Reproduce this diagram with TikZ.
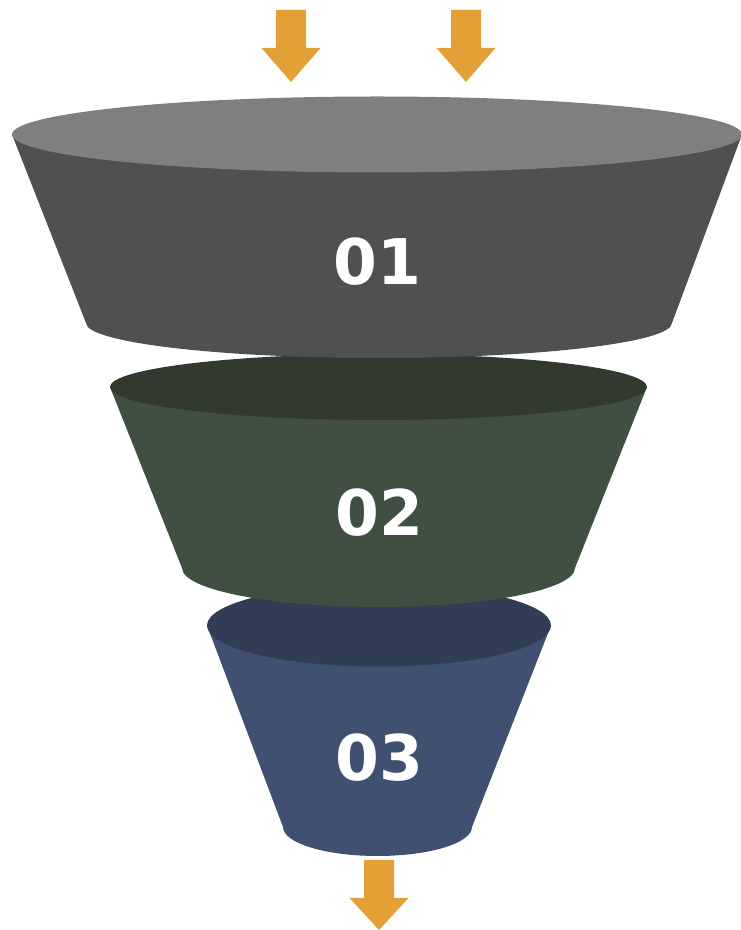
\documentclass[tikz,border=0pt]{standalone}
\usepackage{fontspec}
\newfontfamily\numfont{DejaVu Sans}
\definecolor{arroworange}{HTML}{E2A036}
\definecolor{topA}{HTML}{7F7F7F}
\definecolor{bodyA}{HTML}{505050}
\definecolor{topB}{HTML}{323A2F}
\definecolor{bodyB}{HTML}{3F4F41}
\definecolor{topC}{HTML}{313C55}
\definecolor{bodyC}{HTML}{3F5070}
\tikzset{
  flowarrow/.style={fill=arroworange, draw=none},
  numlabel/.style={text=white, inner sep=0pt, font=\numfont\bfseries\fontsize{63}{63}\selectfont},
}
\begin{document}
\begin{tikzpicture}[x=1pt,y=1pt]
\useasboundingbox (0,0) rectangle (741,930);
% segment 3
\fill[bodyC] (207,304.5) -- (283,103) arc[start angle=180,end angle=360,x radius=94.5pt,y radius=29pt] -- (551,304.5) -- cycle;
\fill[topC] (379,304.5) ellipse[x radius=172pt,y radius=41pt];
% segment 2
\fill[bodyB] (110,543) -- (182,362) arc[start angle=180,end angle=360,x radius=196.5pt,y radius=39pt] -- (647,543) -- cycle;
\fill[topB] (378.5,543) ellipse[x radius=268.5pt,y radius=33pt];
% segment 1
\fill[bodyA] (12,795.5) -- (86,607) arc[start angle=180,end angle=360,x radius=293pt,y radius=35pt] -- (742,795.5) -- cycle;
\fill[topA] (377,795.5) ellipse[x radius=365pt,y radius=38pt];
% labels
\node[numlabel] (n1) at (377,668.5) {01};
\node[numlabel] (n2) at (379.5,417.5) {02};
\node[numlabel] (n3) at (379,172.5) {03};
% arrows
\fill[flowarrow] (276,920) -- (306,920) -- (306,882) -- (320.5,882) -- (291,848) -- (261.5,882) -- (276,882) -- cycle;
\fill[flowarrow] (451,920) -- (481,920) -- (481,882) -- (495.5,882) -- (466,848) -- (436.5,882) -- (451,882) -- cycle;
\fill[flowarrow] (364,70) -- (394,70) -- (394,32) -- (408.5,32) -- (379,0) -- (349.5,32) -- (364,32) -- cycle;
\end{tikzpicture}
\end{document}
